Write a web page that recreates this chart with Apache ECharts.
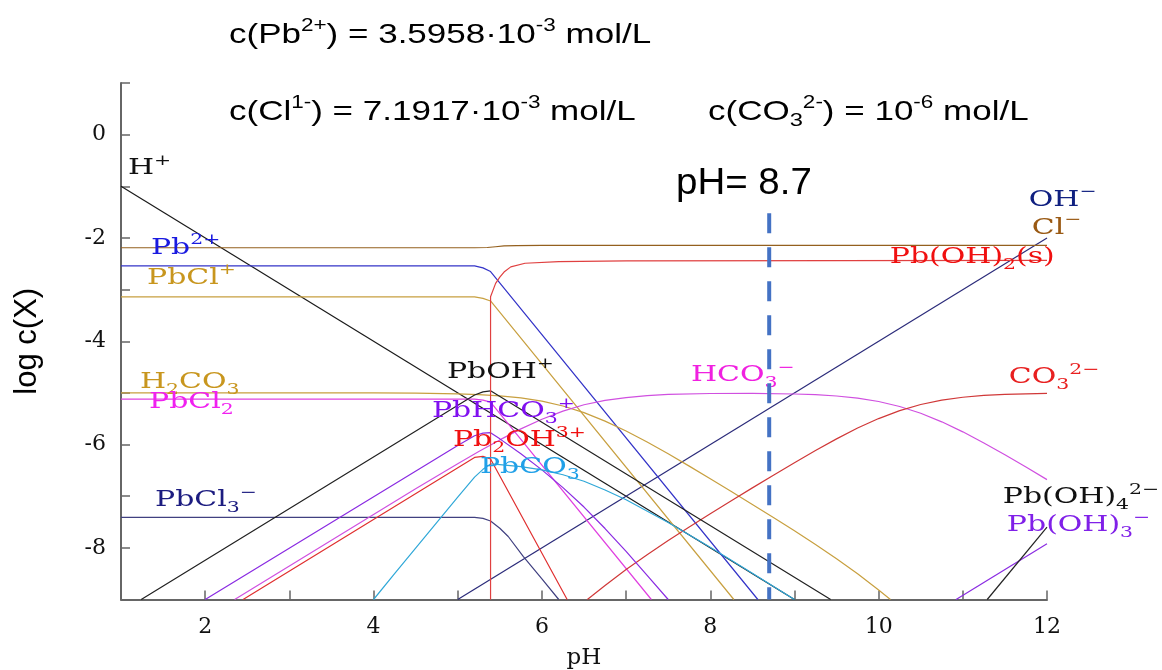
<!DOCTYPE html>
<html>
<head>
<meta charset="utf-8">
<script src="https://cdn.jsdelivr.net/npm/echarts@6/dist/echarts.min.js"></script>
<style>
html,body{margin:0;padding:0;background:#ffffff;}
#c{width:1162px;height:670px;}
</style>
</head>
<body>
<div id="c"></div>
<script>
// ---- data: [pH, log c] pairs ----
const hPlus   = [[1,-1],[9,-9]];
const ohMinus = [[5,-9],[12,-2]];
const clMinus = [[1,-2.19],[5.2,-2.19],[5.35,-2.185],[5.45,-2.17],[5.55,-2.155],[5.7,-2.147],[6,-2.145],[12,-2.145]];
const pb2     = [[1,-2.54],[5.2,-2.54],[5.3,-2.58],[5.39,-2.65],[8.565,-9]];
const pbCl    = [[1,-3.14],[5.2,-3.14],[5.3,-3.17],[5.39,-3.22],[8.28,-9]];
const pbCl2   = [[1,-5.12],[5.2,-5.12],[5.3,-5.14],[5.39,-5.18],[7.3,-9]];
const pbCl3   = [[1,-7.41],[5.2,-7.41],[5.3,-7.43],[5.39,-7.48],[5.5,-7.62],[5.6,-7.78],[5.78,-8.17],[6,-8.6],[6.2,-9]];
const h2co3   = [[1,-5],[4,-5],[4.5,-5.006],[5,-5.02],[5.25,-5.033],[5.5,-5.057],[5.75,-5.097],[6,-5.16],[6.25,-5.254],[6.5,-5.383],[6.75,-5.546],[7,-5.738],[7.25,-5.952],[7.5,-6.18],[7.75,-6.418],[8,-6.662],[8.25,-6.909],[8.5,-7.16],[8.75,-7.413],[9,-7.671],[9.25,-7.935],[9.5,-8.21],[9.75,-8.502],[10,-8.817],[10.14,-9]];
const hco3    = [[2.35,-9],[4.5,-6.856],[5,-6.37],[5.25,-6.133],[5.5,-5.91],[5.75,-5.697],[6,-5.51],[6.25,-5.354],[6.5,-5.23],[6.75,-5.146],[7,-5.09],[7.25,-5.052],[7.5,-5.03],[8,-5.012],[8.5,-5.009],[9,-5.021],[9.25,-5.035],[9.5,-5.06],[9.75,-5.101],[10,-5.167],[10.25,-5.263],[10.5,-5.394],[10.75,-5.56],[11,-5.754],[11.25,-5.969],[11.5,-6.198],[11.75,-6.436],[12,-6.679]];
const co3     = [[6.54,-9],[6.6,-8.924],[6.75,-8.73],[7,-8.418],[7.25,-8.132],[7.5,-7.86],[7.75,-7.598],[8,-7.342],[8.25,-7.089],[8.5,-6.839],[8.75,-6.593],[9,-6.351],[9.25,-6.115],[9.5,-5.89],[9.75,-5.681],[10,-5.497],[10.25,-5.343],[10.5,-5.224],[10.75,-5.14],[11,-5.084],[11.25,-5.049],[11.5,-5.028],[12,-5.009]];
const pbOH    = [[1.24,-9],[5.2,-5.04],[5.3,-4.98],[5.39,-4.96],[9.43,-9]];
const pb2OH   = [[2.45,-9],[5.2,-6.25],[5.3,-6.23],[5.39,-6.28],[6.3,-9]];
const pbHCO3  = [[2,-9],[5,-6.02],[5.2,-5.83],[5.3,-5.78],[5.39,-5.77],[5.5,-5.89],[5.75,-6.18],[6,-6.49],[6.25,-6.834],[6.5,-7.21],[6.75,-7.626],[7,-8.07],[7.25,-8.532],[7.5,-9]];
const pbCO3   = [[4,-9],[4.25,-8.5],[4.5,-8.006],[4.75,-7.51],[5,-7.02],[5.2,-6.63],[5.3,-6.48],[5.39,-6.375],[5.5,-6.387],[5.75,-6.427],[6,-6.49],[6.25,-6.584],[6.5,-6.71],[6.75,-6.88],[7,-7.07],[7.5,-7.51],[8,-7.99],[8.5,-8.49],[9,-9]];
const pbOH2s  = [[5.39,-9],[5.39,-3.14],[5.45,-2.88],[5.5,-2.76],[5.55,-2.66],[5.63,-2.56],[5.8,-2.49],[6.2,-2.46],[7,-2.445],[12,-2.435]];
const pbOH3   = [[10.92,-9],[12,-7.92]];
const pbOH4   = [[11.29,-9],[12,-7.6]];
const phMarker = [[8.7,-1.52],[8.7,-9]];

const xLabelValues = [2,4,6,8,10,12];
const yLabelValues = [0,-2,-4,-6,-8];

// ---- styles ----
const lineDefs = [
  {name:'H+', data:hPlus, color:'#1a1a1a'},
  {name:'OH-', data:ohMinus, color:'#2b2b7a'},
  {name:'Cl-', data:clMinus, color:'#94601e'},
  {name:'Pb2+', data:pb2, color:'#3434c8'},
  {name:'PbCl+', data:pbCl, color:'#c8a040'},
  {name:'PbCl2', data:pbCl2, color:'#e040e0'},
  {name:'PbCl3-', data:pbCl3, color:'#404080'},
  {name:'H2CO3', data:h2co3, color:'#c8a040'},
  {name:'HCO3-', data:hco3, color:'#d050e0'},
  {name:'CO3 2-', data:co3, color:'#d03838'},
  {name:'PbOH+', data:pbOH, color:'#222222'},
  {name:'Pb2OH3+', data:pb2OH, color:'#e03030'},
  {name:'PbHCO3+', data:pbHCO3, color:'#8a2be2'},
  {name:'PbCO3', data:pbCO3, color:'#30a8d8'},
  {name:'Pb(OH)2(s)', data:pbOH2s, color:'#e04040'},
  {name:'Pb(OH)3-', data:pbOH3, color:'#8a2be2'},
  {name:'Pb(OH)4 2-', data:pbOH4, color:'#222222'}
];

const SERIF = 'DejaVu Serif';
const SANS = 'Liberation Sans';

const series = lineDefs.map(d => ({
  name: d.name, type:'line', data:d.data, showSymbol:false, symbol:'none', smooth:false,
  lineStyle:{color:d.color, width:1.2}, z:3, silent:true, clip:true
}));
series.push({
  name:'pH marker', type:'line', data:phMarker, showSymbol:false, symbol:'none',
  lineStyle:{color:'#4472c4', width:4, type:[20,14]}, z:20, silent:true
});

const chart = echarts.init(document.getElementById('c'), null, {renderer:'canvas'});
chart.setOption({
  animation:false,
  backgroundColor:'#ffffff',
  grid:{left:121, right:115, top:83, bottom:70.5, containLabel:false, outerBoundsMode:'none'},
  xAxis:{
    type:'value', min:1, max:12, interval:1,
    axisLine:{show:true, onZero:false, lineStyle:{color:'#666', width:2}},
    axisTick:{show:true, inside:true, length:9, lineStyle:{color:'#666', width:1.5}},
    axisLabel:{formatter:v => xLabelValues.indexOf(v) >= 0 ? String(v) : '', fontFamily:SERIF, fontSize:22, color:'#111', margin:17},
    splitLine:{show:false},
    name:'pH', nameLocation:'middle', nameGap:47,
    nameTextStyle:{fontFamily:SERIF, fontSize:23, color:'#111'}
  },
  yAxis:{
    type:'value', min:-9, max:1, interval:1,
    axisLine:{show:true, onZero:false, lineStyle:{color:'#666', width:2}},
    axisTick:{show:true, inside:true, length:9, lineStyle:{color:'#666', width:1.5}},
    axisLabel:{formatter:v => yLabelValues.indexOf(v) >= 0 ? String(v) : '', fontFamily:SERIF, fontSize:22, color:'#111', margin:15},
    splitLine:{show:false},
    name:'log c(X)', nameLocation:'middle', nameGap:78, nameRotate:90,
    nameTextStyle:{fontFamily:SANS, fontSize:31, color:'#000'}
  },
  series: series
});

// ---- text annotations ----
const serifRich = {
  n:{fontFamily:SERIF, fontSize:22, lineHeight:30},
  b:{fontFamily:SERIF, fontSize:15, lineHeight:15, verticalAlign:'bottom'},
  p:{fontFamily:SERIF, fontSize:15, lineHeight:15, verticalAlign:'top'}
};
const sansRich = {
  n:{fontFamily:SANS, fontSize:28, lineHeight:36},
  b:{fontFamily:SANS, fontSize:19, lineHeight:19, verticalAlign:'bottom'},
  p:{fontFamily:SANS, fontSize:18, lineHeight:18, verticalAlign:'top'}
};

// species labels: anchored (left, middle) at data coordinates
const speciesLabels = [
  {t:'{n|H}{p|+}', at:[1.083,-0.648], c:'#111111'},
  {t:'{n|Pb}{p|2+}', at:[1.356,-2.195], c:'#1a1ae0'},
  {t:'{n|PbCl}{p|+}', at:[1.309,-2.776], c:'#c8961e'},
  {t:'{n|H}{b|2}{n|CO}{b|3}', at:[1.226,-4.80], c:'#c8961e'},
  {t:'{n|PbCl}{b|2}', at:[1.333,-5.19], c:'#f020f0'},
  {t:'{n|PbCl}{b|3}{p|\u2212}', at:[1.404,-7.08], c:'#1c1c80'},
  {t:'{n|PbOH}{p|+}', at:[4.872,-4.594], c:'#111111'},
  {t:'{n|PbHCO}{b|3}{p|+}', at:[4.694,-5.36], c:'#8010f0'},
  {t:'{n|Pb}{b|2}{n|OH}{p|3+}', at:[4.943,-5.92], c:'#f01010'},
  {t:'{n|PbCO}{b|3}', at:[5.264,-6.44], c:'#20a0e8'},
  {t:'{n|HCO}{b|3}{p|\u2212}', at:[7.77,-4.66], c:'#f020e0'},
  {t:'{n|CO}{b|3}{p|2\u2212}', at:[11.546,-4.70], c:'#e82020'},
  {t:'{n|Pb(OH)}{b|4}{p|2\u2212}', at:[11.475,-7.02], c:'#111111'},
  {t:'{n|Pb(OH)}{b|3}{p|\u2212}', at:[11.523,-7.56], c:'#8020e8'},
  {t:'{n|OH}{p|\u2212}', at:[11.784,-1.267], c:'#102080'},
  {t:'{n|Cl}{p|\u2212}', at:[11.82,-1.808], c:'#9a5a14'},
  {t:'{n|Pb(OH)}{b|2}{n|(s)}', at:[10.133,-2.38], c:'#f01010'}
];

// header texts (pixel layout)
const headerTexts = [
  {t:'{n|c(Pb}{p|2+}{n|) = 3.5958\u00b710}{p|-3}{n| mol/L}', x:229, y:35, sx:1.25},
  {t:'{n|c(Cl}{p|1-}{n|) = 7.1917\u00b710}{p|-3}{n| mol/L}', x:229, y:112, sx:1.25},
  {t:'{n|c(CO}{b|3}{p|2-}{n|) = 10}{p|-6}{n| mol/L}', x:708, y:112, sx:1.25}
];

const graphics = [];
speciesLabels.forEach(d => {
  const p = chart.convertToPixel({gridIndex:0}, d.at);
  graphics.push({
    type:'text', x:p[0], y:p[1], scaleX:1.36, z:10, silent:true,
    style:{text:d.t, fill:d.c, fontFamily:SERIF, fontSize:22,
      align:'left', verticalAlign:'middle', textAlign:'left', textVerticalAlign:'middle', rich:serifRich}
  });
});
headerTexts.forEach(d => {
  graphics.push({
    type:'text', x:d.x, y:d.y, scaleX:d.sx, z:10, silent:true,
    style:{text:d.t, fill:'#000', fontFamily:SANS, fontSize:28,
      align:'left', verticalAlign:'middle', textAlign:'left', textVerticalAlign:'middle', rich:sansRich}
  });
});
graphics.push({
  type:'text', x:676, y:184, scaleX:1.04, z:10, silent:true,
  style:{text:'pH= 8.7', fill:'#000', fontFamily:SANS, fontSize:37,
    align:'left', verticalAlign:'middle', textAlign:'left', textVerticalAlign:'middle'}
});
chart.setOption({graphic:graphics});
</script>
</body>
</html>
